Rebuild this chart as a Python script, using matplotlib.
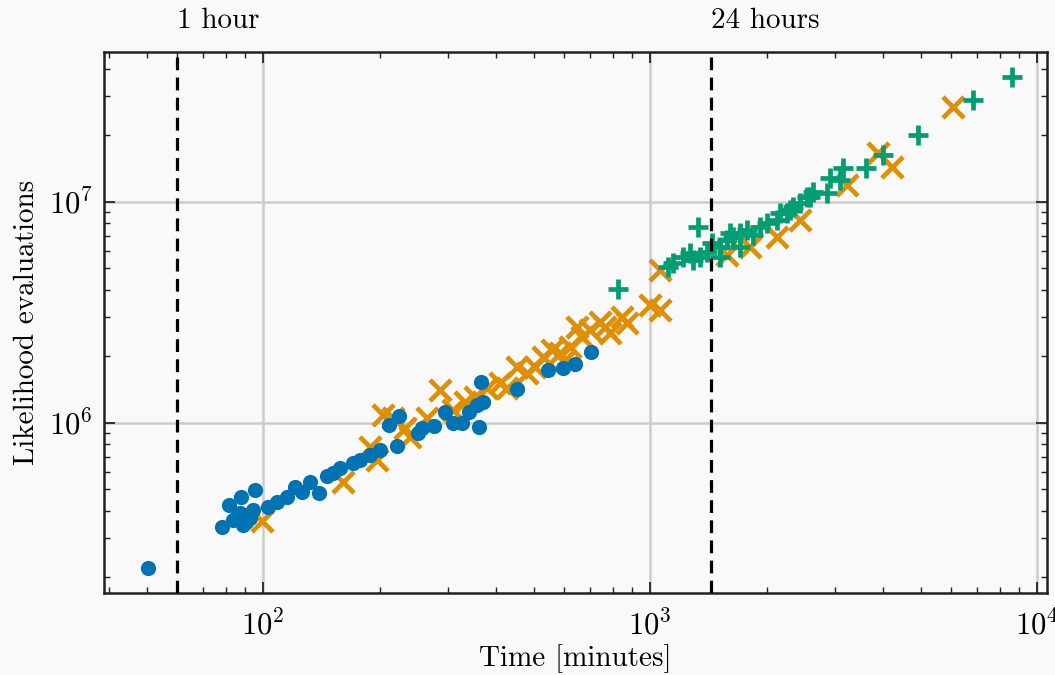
import matplotlib
matplotlib.use('Agg')
import numpy as np
import matplotlib.pyplot as plt
import matplotlib.transforms as mtransforms

# run time [minutes] and likelihood evaluations
blue_t = [50.4, 78.4, 81.7, 87.7, 95.3, 83.7, 87.2, 88.8, 92.6, 94.2, 85.7, 90.4,
          103, 108.7, 115.4, 121, 126.1, 132.3, 139.5, 146.3, 151.6, 158.1, 170.8,
          178.1, 189, 200.6, 211.6, 222, 224.6, 251.5, 257.6, 276.6, 295.3, 309.7,
          326.7, 340.7, 357.3, 370.3, 361.4, 365.8, 453.3, 545, 596, 640, 703.8]
blue_n = [2.21e5, 3.38e5, 4.26e5, 4.63e5, 4.97e5, 3.64e5, 3.92e5, 3.45e5, 3.72e5,
          4.04e5, 3.76e5, 3.56e5, 4.17e5, 4.39e5, 4.63e5, 5.13e5, 4.87e5, 5.41e5,
          4.82e5, 5.76e5, 5.94e5, 6.26e5, 6.59e5, 6.80e5, 7.17e5, 7.55e5, 9.79e5,
          7.87e5, 1.076e6, 9.01e5, 9.49e5, 9.69e5, 1.121e6, 1.0e6, 1.0e6, 1.12e6,
          1.206e6, 1.245e6, 9.59e5, 1.533e6, 1.425e6, 1.737e6, 1.774e6, 1.849e6,
          2.096e6]

orange_t = [99.4, 160.9, 189, 197, 204.2, 216.7, 232.8, 239.8, 265.3, 286.6, 309.7,
            332.7, 352.9, 379.2, 409.8, 427.1, 453.3, 481, 504.4, 529, 558.3, 585.3,
            603, 621.2, 647.6, 667.2, 699.8, 742.6, 765, 788.1, 846.5, 872.3, 1000,
            1061, 1061, 1581, 1813, 2129, 2442, 3228, 3882, 4221, 6067]
orange_n = [3.60e5, 5.41e5, 7.79e5, 6.80e5, 1.087e6, 1.053e6, 9.49e5, 8.64e5,
            1.053e6, 1.41e6, 1.145e6, 1.245e6, 1.311e6, 1.44e6, 1.517e6, 1.44e6,
            1.792e6, 1.684e6, 1.792e6, 1.989e6, 2.139e6, 2.074e6, 1.928e6, 2.208e6,
            2.72e6, 2.45e6, 2.636e6, 2.864e6, 2.72e6, 2.555e6, 3.018e6, 2.835e6,
            3.42e6, 3.245e6, 4.925e6, 5.757e6, 6.256e6, 6.943e6, 8.29e6, 1.194e7,
            1.666e7, 1.44e7, 2.69e7]

green_t = [826.6, 1113, 1147, 1217, 1269, 1292, 1331, 1347, 1404, 1446, 1517, 1517,
           1581, 1609, 1639, 1709, 1709, 1781, 1846, 1924, 2006, 2129, 2167, 2259,
           2300, 2341, 2442, 2545, 2591, 2638, 2867, 2918, 3097, 3152, 3615, 4000,
           4926, 6833, 8618]
green_n = [4.04e6, 5.08e6, 5.30e6, 5.64e6, 5.88e6, 5.47e6, 7.71e6, 5.64e6, 5.94e6,
           6.52e6, 6.256e6, 5.64e6, 6.73e6, 7.24e6, 6.94e6, 7.24e6, 6.26e6, 7.47e6,
           7.09e6, 7.71e6, 8.04e6, 8.29e6, 8.92e6, 8.92e6, 9.20e6, 9.49e6, 9.90e6,
           1.053e7, 1.053e7, 1.11e7, 1.10e7, 1.284e7, 1.258e7, 1.425e7, 1.425e7,
           1.632e7, 2.01e7, 2.89e7, 3.68e7]

marks = [(60, '1 hour'), (1440, '24 hours')]

plt.rcParams['font.family'] = 'serif'
plt.rcParams['font.serif'] = ['cmr10']
plt.rcParams['mathtext.fontset'] = 'cm'
plt.rcParams['axes.formatter.use_mathtext'] = True
plt.rcParams['font.size'] = 21

bg = '#f9f9f9'
fig = plt.figure(figsize=(10.55, 6.75), dpi=100, facecolor=bg)
ax = fig.add_axes([0.0986, 0.1215, 0.8938, 0.8015], facecolor=bg)

ax.scatter(orange_t, orange_n, marker='x', s=230, linewidths=3.4, color='#de8f05', zorder=3)
ax.scatter(blue_t, blue_n, marker='o', s=120, linewidths=0, color='#0173b2', zorder=4)
ax.scatter(green_t, green_n, marker='+', s=220, linewidths=3.4, color='#029e73', zorder=4)

ax.set_xscale('log')
ax.set_yscale('log')
ax.set_xlim(38.8, 10600)
ax.set_ylim(1.70e5, 4.77e7)

trans = mtransforms.blended_transform_factory(ax.transData, ax.transAxes)
for t, lab in marks:
    ax.axvline(t, color='black', ls=(0, (4, 2.3)), lw=2.3, zorder=5)
    ax.text(t, 1.057, lab, transform=trans, ha='left', va='center', fontsize=21)

ax.grid(True, which='major', color='#cccccc', lw=1.8, zorder=0)
ax.set_axisbelow(True)
ax.tick_params(which='both', direction='in', top=True, right=True, color='#222222')
ax.tick_params(which='major', length=8, width=1.3, labelsize=22, pad=8)
ax.tick_params(axis='x', which='major', pad=12)
ax.tick_params(which='minor', length=4.5, width=1)
for s in ax.spines.values():
    s.set_linewidth(1.8)
    s.set_color('#222222')

ax.set_xlabel('Time [minutes]', fontsize=21, labelpad=2)
ax.set_ylabel('Likelihood evaluations', fontsize=21, labelpad=6)

fig.savefig('out.png', dpi=100, facecolor=bg)
